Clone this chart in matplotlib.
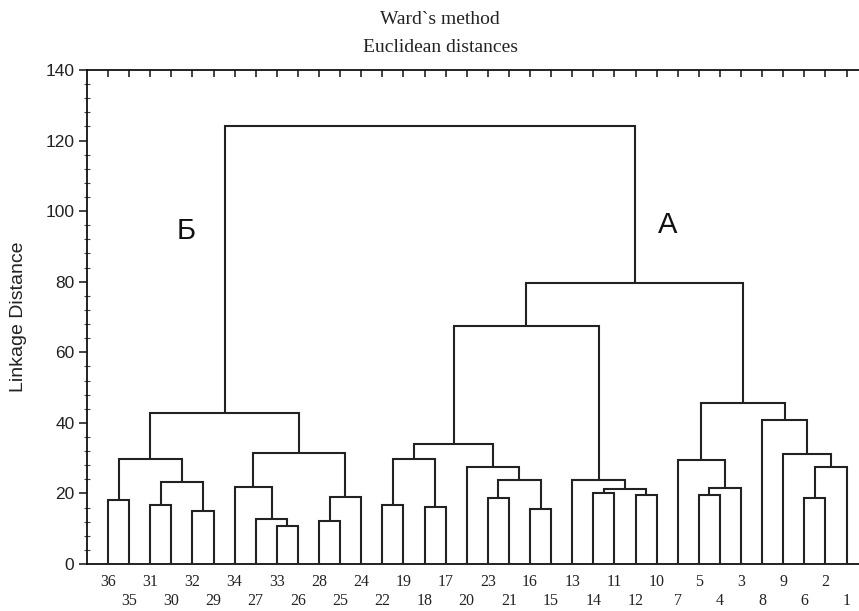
import matplotlib
matplotlib.use("Agg")
import matplotlib.pyplot as plt
from matplotlib.ticker import MultipleLocator, FixedLocator, NullFormatter
from matplotlib.transforms import offset_copy

# ---- data -------------------------------------------------------------
leaf_order = [36, 35, 31, 30, 32, 29, 34, 27, 33, 26, 28, 25, 24, 22, 19, 18,
              17, 20, 23, 21, 16, 15, 13, 14, 11, 12, 10, 7, 5, 4, 3, 8, 9, 6, 2, 1]

# merges: (left child, right child, linkage distance); "mK" refers to merge K
merge_left = [36, 31, 32, "m1", "m0", 33, 27, 34, 28, "m8", "m7", "m4",
              22, 18, "m12", 23, 16, "m15", 20, "m14",
              14, 12, "m20", 13, "m19",
              5, "m25", 7, 6, "m28", 9, 8, "m27", "m24", "m11"]
merge_right = [35, 30, 29, "m2", "m3", 26, "m5", "m6", 25, 24, "m9", "m10",
               19, 17, "m13", 21, 15, "m16", "m17", "m18",
               11, 10, "m21", "m22", "m23",
               4, 3, "m26", 2, 1, "m29", "m30", "m31", "m32", "m33"]
merge_height = [18.0, 16.7, 15.1, 23.1, 29.8, 10.8, 12.7, 21.9, 12.3, 19.1, 31.5, 42.7,
                16.7, 16.2, 29.8, 18.7, 15.6, 23.9, 27.5, 34.0,
                20.2, 19.5, 21.2, 23.9, 67.5,
                19.5, 21.5, 29.5, 18.8, 27.5, 31.2, 40.7, 45.5, 79.5, 124.0]

title_lines = ["Ward`s method", "Euclidean distances"]
y_label = "Linkage Distance"
group_labels = ["Б", "А"]

# ---- figure -----------------------------------------------------------
W, H = 859, 611
fig = plt.figure(figsize=(W / 100, H / 100), dpi=100)
fig.patch.set_facecolor("white")
sp = 21.1
ax = fig.add_axes([(108 - sp) / W, 47 / H, (37 * sp) / W, 494 / H])

line_col = "#222222"
lw = 1.5

pos = {}
for i, lab in enumerate(leaf_order):
    pos[lab] = (float(i), 0.0)

for k, (a, b, h) in enumerate(zip(merge_left, merge_right, merge_height)):
    xa, ha = pos[a]
    xb, hb = pos[b]
    ax.plot([xa, xa, xb, xb], [ha, h, h, hb], color=line_col, lw=lw,
            solid_joinstyle="miter", solid_capstyle="butt", zorder=3)
    pos["m%d" % k] = ((xa + xb) / 2.0, h)

ax.set_xlim(-1, 36)
ax.set_ylim(0, 140)

for s in ax.spines.values():
    s.set_linewidth(1.3)
    s.set_color("#111111")

# x ticks at leaf positions (top and bottom, inward)
ax.xaxis.set_major_locator(FixedLocator(range(len(leaf_order))))
ax.xaxis.set_major_formatter(NullFormatter())
ax.tick_params(axis="x", which="major", direction="in", length=5, width=1.1,
               top=True, bottom=True, labelbottom=False, colors="#111111")

# y ticks
ax.yaxis.set_major_locator(MultipleLocator(20))
ax.yaxis.set_minor_locator(MultipleLocator(4))
ax.tick_params(axis="y", which="major", direction="out", length=6, width=1.1,
               pad=3, labelsize=12.5, colors="#111111")
ax.tick_params(axis="y", which="minor", direction="inout", length=4, width=0.8,
               colors="#444444")
for t in ax.get_yticklabels():
    t.set_family(["Liberation Sans", "DejaVu Sans"])
    t.set_color("#222222")

ax.set_ylabel(y_label, fontsize=14, family=["Liberation Sans", "DejaVu Sans"],
              color="#222222", labelpad=13)

# leaf labels, two staggered rows
tr = ax.get_xaxis_transform()
tr_top = offset_copy(tr, fig=fig, x=0, y=-18, units="dots")
tr_bot = offset_copy(tr, fig=fig, x=0, y=-37, units="dots")
for i, lab in enumerate(leaf_order):
    ax.text(i, 0, str(lab), transform=tr_top if i % 2 == 0 else tr_bot,
            ha="center", va="center", fontsize=11.5,
            family=["Liberation Serif", "DejaVu Serif"], color="#222222")

# title
fig.text(440 / W, 1 - 20 / H, title_lines[0], ha="center", va="center",
         fontsize=14, family=["Liberation Serif", "DejaVu Serif"], color="#222222")
fig.text(440 / W, 1 - 48 / H, title_lines[1], ha="center", va="center",
         fontsize=14, family=["Liberation Serif", "DejaVu Serif"], color="#222222")

# group letters
ax.text(3.7, 94.5, group_labels[0], ha="center", va="center", fontsize=21,
        family=["Liberation Sans", "DejaVu Sans"], color="#111111")
ax.text(26.5, 96.0, group_labels[1], ha="center", va="center", fontsize=21,
        family=["Liberation Sans", "DejaVu Sans"], color="#111111")

fig.savefig("out.png", dpi=100, facecolor="white")
